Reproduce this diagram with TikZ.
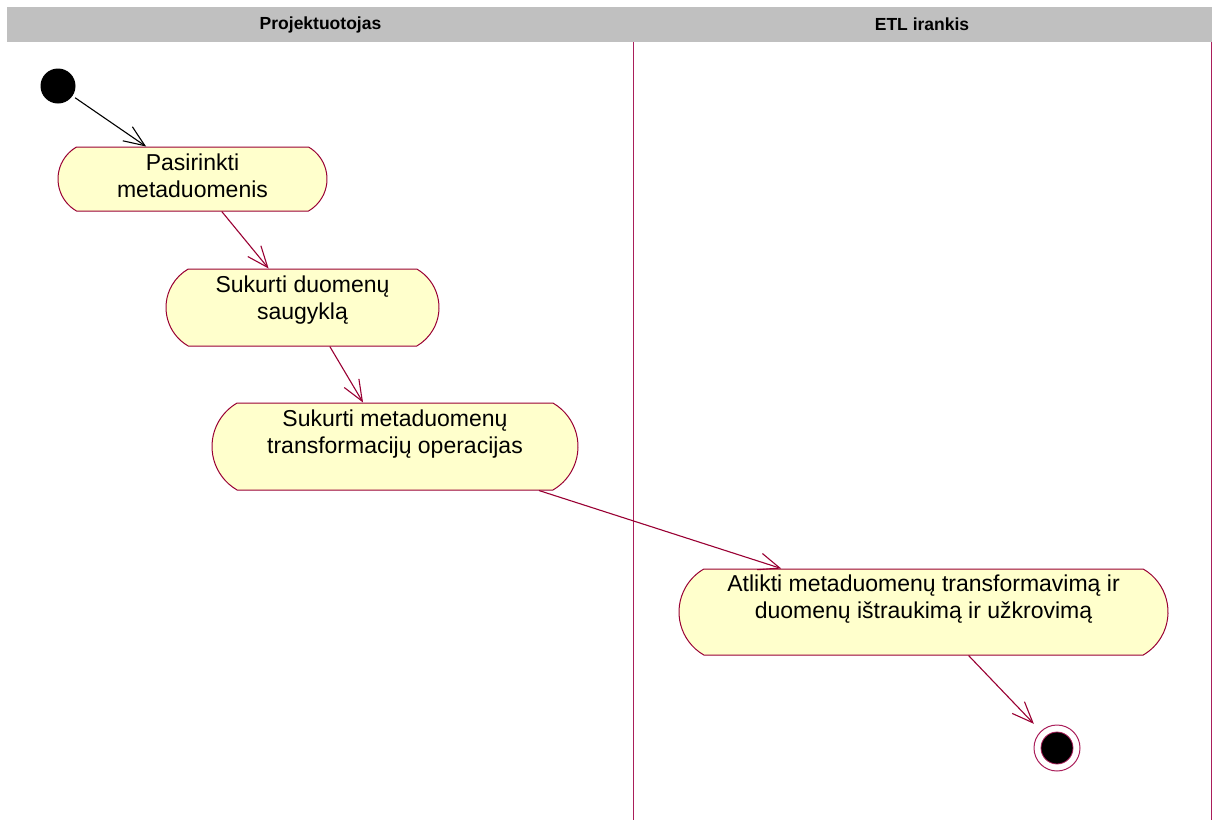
\documentclass[tikz,border=0pt]{standalone}
\usepackage{fontspec}
\setmainfont{Liberation Sans}
\usetikzlibrary{shapes.misc,arrows.meta}
\definecolor{umlline}{RGB}{153,0,51}
\definecolor{lanecolor}{RGB}{170,30,90}
\definecolor{umlfill}{RGB}{255,255,204}
\definecolor{laneband}{RGB}{192,192,192}
\begin{document}
\begin{tikzpicture}[x=1pt,y=-1pt,
  activity/.style={rounded rectangle, rounded rectangle arc length=120,
    draw=umlline, fill=umlfill, line width=1pt, inner sep=0pt},
  acttext/.style={anchor=north, inner sep=0pt, align=center,
    font=\fontsize{23}{27.5}\selectfont},
  lanehead/.style={font=\bfseries\fontsize{17.5}{17.5}\selectfont, inner sep=0pt},
  laneline/.style={draw=lanecolor, line width=0.75pt},
  flow/.style={draw=umlline, line width=1.1pt,
    -{Straight Barb[length=21pt,width=17pt]}},
  startflow/.style={flow, draw=black},
]
\useasboundingbox (0,0) rectangle (1214,820);

% swimlane header band and lane separators
\fill[laneband] (7,7) rectangle (1212,42);
\node[lanehead] (h1) at (320.5,24.5) {Projektuotojas};
\node[lanehead] (h2) at (922,24.5) {ETL irankis};
\draw[laneline] (633,42) -- (633,820);
\draw[laneline] (1211,42) -- (1211,820);

% initial and final states
\node[circle, fill=black, minimum size=35pt, inner sep=0pt] (start) at (58,86) {};
\node[circle, draw=lanecolor, line width=1pt, minimum size=46pt, inner sep=0pt] (end) at (1057,748) {};
\node[circle, fill=black, draw=lanecolor, line width=0.8pt, minimum size=32pt, inner sep=0pt] (endcore) at (end) {};

% activities
\node[activity, minimum width=269pt, minimum height=64pt] (a1) at (192.5,179) {};
\node[acttext] (t1) at ([yshift=-7pt]a1.north) {Pasirinkti\\metaduomenis};

\node[activity, minimum width=273pt, minimum height=77pt] (a2) at (302.5,307.5) {};
\node[acttext] (t2) at ([yshift=-7pt]a2.north) {Sukurti duomenų\\saugyklą};

\node[activity, minimum width=366pt, minimum height=87pt] (a3) at (395,446.5) {};
\node[acttext] (t3) at ([yshift=-7pt]a3.north) {Sukurti metaduomenų\\transformacijų operacijas};

\node[activity, minimum width=489pt, minimum height=86pt] (a4) at (923.5,612) {};
\node[acttext] (t4) at ([yshift=-6pt]a4.north) {Atlikti metaduomenų transformavimą ir\\duomenų ištraukimą ir užkrovimą};

% control flows
\draw[startflow, shorten <=3pt] (start) -- (a1.145);
\draw[flow] (a1.-48) -- (a2.131);
\draw[flow] (a2.-55) -- (a3.126);
\draw[flow] (a3.-17) -- (a4.163.5);
\draw[flow, shorten >=10pt] (a4.-44) -- (end);
\end{tikzpicture}
\end{document}
